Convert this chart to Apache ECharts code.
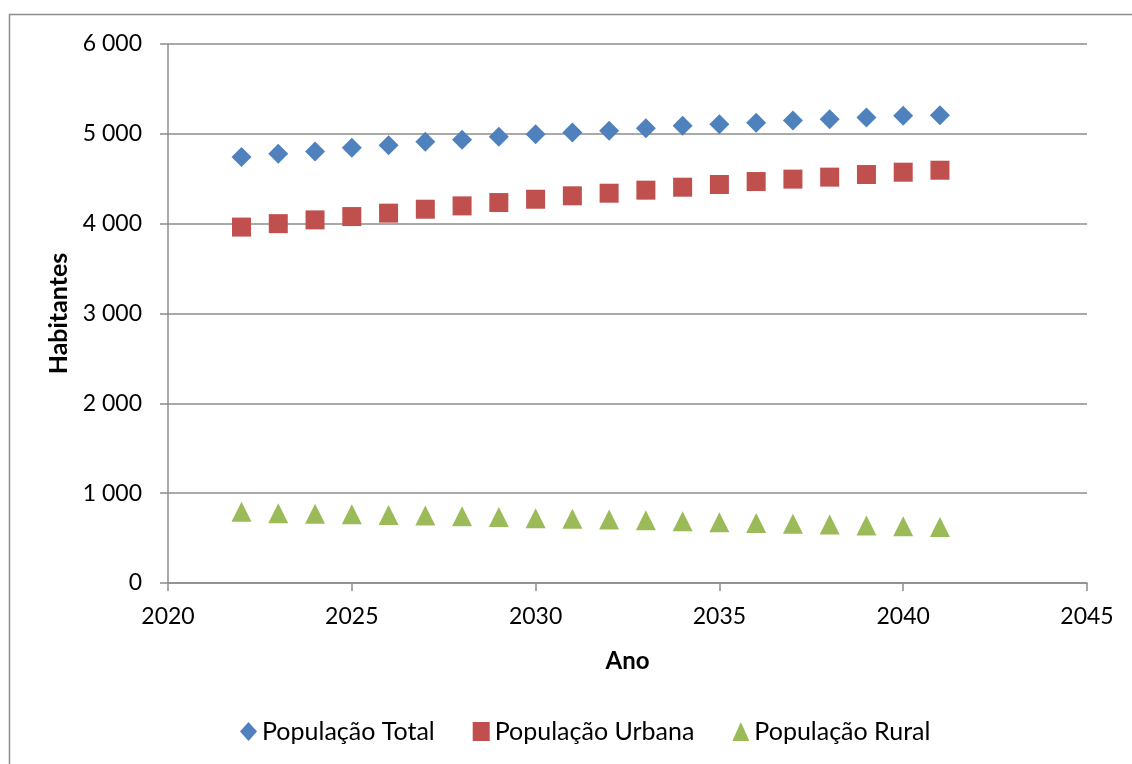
<!DOCTYPE html>
<html>
<head>
<meta charset="utf-8">
<script src="https://cdn.jsdelivr.net/npm/echarts@6/dist/echarts.min.js"></script>
<style>
html,body{margin:0;padding:0;background:#fff;}
#chart{width:1132px;height:764px;}
</style>
</head>
<body>
<div id="chart"></div>
<script>
const years = [2022,2023,2024,2025,2026,2027,2028,2029,2030,2031,2032,2033,2034,2035,2036,2037,2038,2039,2040,2041];
const popTotal = [4741,4777,4803,4844,4874,4911,4933,4967,4996,5014,5035,5063,5089,5108,5122,5148,5163,5181,5200,5207];
const popUrbana = [3962,4000,4042,4079,4117,4161,4198,4235,4272,4310,4339,4373,4406,4436,4469,4496,4518,4547,4573,4595];
const popRural = [794,777,772,765,757,752,744,735,722,715,707,699,688,676,668,660,651,640,631,624];
const seriesNames = ['População Total','População Urbana','População Rural'];
const xTicks = [2020,2025,2030,2035,2040,2045];
const yTicks = [0,1000,2000,3000,4000,5000,6000];

const pair = (xs, ys) => xs.map((x,i)=>[x, ys[i]]);
const fmt = v => { const s = String(Math.round(v)); return s.replace(/\B(?=(\d{3})+(?!\d))/g, ' '); };
const font = 'Lato, "Open Sans", sans-serif';
const gridColor = '#8c8c8c';

const chart = echarts.init(document.getElementById('chart'), null, {renderer:'canvas'});
chart.setOption({
  animation:false,
  backgroundColor:'#fff',
  graphic:[{type:'rect', shape:{x:9.5,y:14.5,width:1300,height:900}, style:{fill:'none', stroke:'#8c8c8c', lineWidth:1.5}, silent:true}],
  grid:{left:168, right:45, top:44, bottom:181},
  xAxis:{
    type:'value', min:xTicks[0], max:xTicks[xTicks.length-1], interval:5,
    name:'Ano', nameLocation:'middle', nameGap:66,
    nameTextStyle:{fontFamily:font, fontWeight:'bold', fontSize:24, color:'#000'},
    axisLine:{show:true, onZero:false, lineStyle:{color:gridColor, width:1.5}},
    axisTick:{show:true, length:8, lineStyle:{color:gridColor, width:1.5}},
    axisLabel:{fontFamily:font, fontSize:23, color:'#000', margin:22, formatter:v=>String(v)},
    splitLine:{show:false}
  },
  yAxis:{
    type:'value', min:yTicks[0], max:yTicks[yTicks.length-1], interval:1000,
    name:'Habitantes', nameLocation:'middle', nameGap:94, nameRotate:90,
    nameTextStyle:{fontFamily:font, fontWeight:'bold', fontSize:25, color:'#000'},
    axisLine:{show:true, lineStyle:{color:gridColor, width:1.5}},
    axisTick:{show:true, length:8, lineStyle:{color:gridColor, width:1.5}},
    axisLabel:{fontFamily:font, fontSize:23, color:'#000', margin:26, formatter:fmt},
    splitLine:{show:true, lineStyle:{color:gridColor, width:1.5}}
  },
  legend:{
    bottom:15, left:235, itemWidth:17, itemHeight:19, itemGap:38,
    textStyle:{fontFamily:font, fontSize:25, color:'#000'},
    data:[{name:seriesNames[0], icon:'diamond'},{name:seriesNames[1], icon:'rect'},{name:seriesNames[2], icon:'triangle'}]
  },
  series:[
    {name:seriesNames[0], type:'scatter', symbol:'diamond', symbolSize:20, itemStyle:{color:'#4F81BD', opacity:1}, data:pair(years,popTotal)},
    {name:seriesNames[1], type:'scatter', symbol:'rect', symbolSize:19, itemStyle:{color:'#C0504D', opacity:1}, data:pair(years,popUrbana)},
    {name:seriesNames[2], type:'scatter', symbol:'triangle', symbolSize:20, itemStyle:{color:'#9BBB59', opacity:1}, data:pair(years,popRural)}
  ]
});
</script>
</body>
</html>
